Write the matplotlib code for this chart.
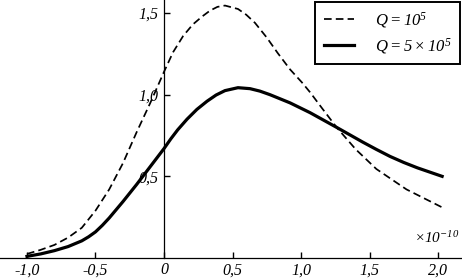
import matplotlib
matplotlib.use("Agg")
import matplotlib.pyplot as plt
from matplotlib.ticker import FuncFormatter

# Data (x in units of 1e-10)
x_q1 = [-1.0, -0.9, -0.8, -0.7, -0.6, -0.5, -0.4, -0.3, -0.2, -0.1, 0.0,
        0.066, 0.14, 0.21, 0.28, 0.336, 0.39, 0.445, 0.54, 0.6, 0.664, 0.75, 0.83, 0.92,
        1.007, 1.066, 1.16, 1.26, 1.4, 1.55, 1.77, 2.03]
y_q1 = [0.025, 0.05, 0.08, 0.125, 0.185, 0.29, 0.42, 0.58, 0.77, 0.95, 1.14,
        1.26, 1.36, 1.43, 1.48, 1.515, 1.538, 1.546, 1.525, 1.49, 1.44, 1.35, 1.255, 1.155,
        1.075, 1.015, 0.91, 0.80, 0.665, 0.545, 0.42, 0.31]

x_q5 = [-1.0, -0.9, -0.8, -0.7, -0.6, -0.55, -0.5, -0.45, -0.4, -0.3, -0.2, -0.1, 0.0, 0.05, 0.1,
        0.168, 0.24, 0.314, 0.38, 0.445, 0.54, 0.628, 0.7, 0.774, 0.92, 1.066, 1.26,
        1.45, 1.55, 1.65, 1.75, 1.85, 2.03]
y_q5 = [0.01, 0.025, 0.045, 0.07, 0.105, 0.13, 0.16, 0.2, 0.245, 0.345, 0.45, 0.56, 0.67, 0.73, 0.785,
        0.85, 0.91, 0.96, 0.998, 1.025, 1.043, 1.037, 1.022, 1.00, 0.95, 0.89, 0.80,
        0.71, 0.665, 0.622, 0.585, 0.552, 0.50]

x_ticks = [-1.0, -0.5, 0.0, 0.5, 1.0, 1.5, 2.0]
y_ticks = [0.5, 1.0, 1.5]
labels = [r'$Q = 10^5$', r'$Q = 5\times 10^5$']

plt.rcParams['mathtext.fontset'] = 'custom'
plt.rcParams['mathtext.rm'] = 'Liberation Serif:italic'
plt.rcParams['mathtext.it'] = 'Liberation Serif:italic'

fig = plt.figure(figsize=(4.62, 2.80), dpi=100)
ax = fig.add_axes([0.0, 22 / 280, 1.0, 1 - 22 / 280])

ax.plot(x_q1, y_q1, color='black', lw=1.25, ls=(0, (4.4, 2.4)), label=labels[0])
ax.plot(x_q5, y_q5, color='black', lw=2.3, label=labels[1])

ax.set_xlim(-1.197, 2.175)
ax.set_ylim(0, 1.58)

ax.spines['top'].set_visible(False)
ax.spines['right'].set_visible(False)
ax.spines['left'].set_position(('data', 0))
ax.spines['left'].set_linewidth(0.9)
ax.spines['bottom'].set_linewidth(0.9)

def fmt(v, pos=None):
    if abs(v) < 1e-9:
        return '0'
    return ('%.1f' % v).replace('.', ',')

ax.set_xticks(x_ticks)
ax.set_yticks(y_ticks)
ax.xaxis.set_major_formatter(FuncFormatter(fmt))
ax.yaxis.set_major_formatter(FuncFormatter(fmt))
ax.tick_params(axis='x', direction='in', length=4, width=1, pad=3)
ax.tick_params(axis='y', direction='in', length=4, width=1, pad=4)
for lab in ax.get_xticklabels() + ax.get_yticklabels():
    lab.set_fontfamily('Liberation Serif')
    lab.set_fontstyle('italic')
    lab.set_fontsize(11.5)

leg = ax.legend(loc='upper right', bbox_to_anchor=(0.996, 0.993), borderaxespad=0,
                fancybox=False, edgecolor='black', framealpha=1, fontsize=12,
                handlelength=1.8, handletextpad=1.3, borderpad=0.5, labelspacing=0.35)
leg.get_frame().set_linewidth(1.4)

ax.text(0.995, 0.078, r'$\times 10^{-10}$', transform=ax.transAxes,
        ha='right', va='center', fontsize=11)

fig.savefig('out.png', dpi=100)
